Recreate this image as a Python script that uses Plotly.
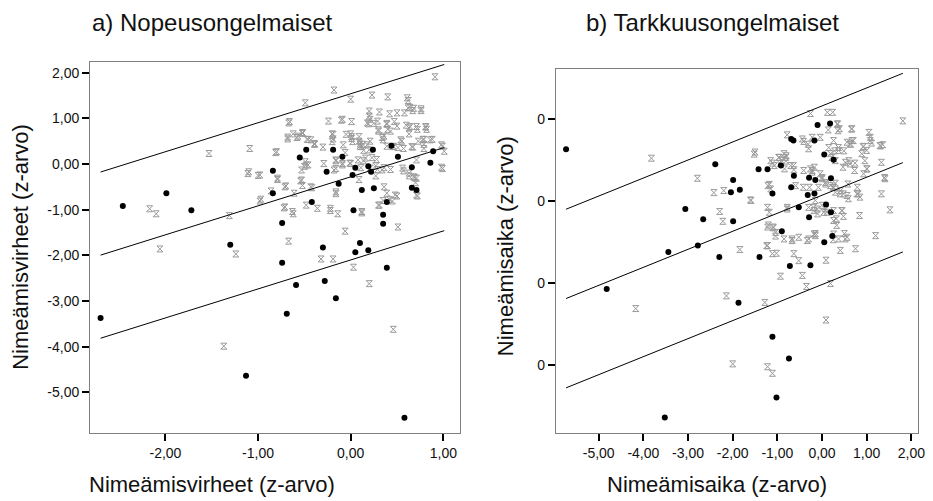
import plotly.graph_objects as go

# ---------------- a) Nopeusongelmaiset ----------------
# highlighted group (black)
a_grp_x = [-2.70, -2.46, -1.99, -1.72, -1.30, -1.13, -0.84, -0.84, -0.74, -0.74, -0.69, -0.59,
           -0.55, -0.48, -0.42, -0.30, -0.28, -0.26, -0.19, -0.16, -0.13, -0.09, 0.02, 0.03,
           0.05, 0.05, 0.10, 0.12, 0.19, 0.19, 0.22, 0.24, 0.25, 0.35, 0.35, 0.39, 0.39, 0.44,
           0.51, 0.58, 0.66, 0.66, 0.71, 0.86, 0.89]
a_grp_y = [-3.37, -0.92, -0.64, -1.01, -1.77, -4.64, -0.15, -0.64, -1.29, -2.16, -3.28, -2.65,
           0.14, 0.31, -0.83, -1.83, -2.56, -0.17, 0.31, -2.94, -0.43, 0.16, -0.24, -1.01,
           -0.08, -1.93, -1.73, -0.57, -0.05, -1.89, -0.17, 0.31, -0.53, -1.11, -1.31, -0.83,
           -2.27, 0.40, 0.16, -5.56, -0.07, -0.52, -0.57, 0.03, 0.28]

# reference group (grey)
a_ref_x = [0.91, -0.18, -0.49, 0.00, 0.23, 0.40, 0.61, 0.62, -0.67, -0.24, -0.10, 0.01, 0.20,
           0.20, 0.31, 0.42, 0.50, 0.58, 0.62, 0.67, 0.76, 0.19, 0.29, 0.39, 0.43, 0.47, 0.60,
           0.63, 0.72, 0.81, 0.82, -0.68, -0.62, -0.58, -0.52, -0.46, -0.39, -0.30, -0.19,
           -0.19, -0.05, 0.00, 0.01, 0.09, 0.10, 0.13, 0.14, 0.21, 0.30, 0.34, 0.40, 0.46,
           0.51, 0.55, 0.63, 0.67, 0.73, 0.79, 0.79, 0.88, 0.99, 1.01, 0.99, -1.09, -0.81,
           -1.53, -1.11, -1.00, -0.79, -0.70, -0.54, -0.52, -0.50, -0.48, -0.42, -0.29, -0.16,
           -0.16, -0.09, -0.06, 0.00, 0.09, 0.11, 0.14, 0.23, 0.27, 0.29, 0.36, 0.43, 0.57,
           0.63, 0.69, 0.70, 0.72, -0.16, -0.98, -0.86, -0.72, -0.62, -0.48, -0.22, -0.14,
           -0.06, 0.12, 0.31, 0.35, 0.42, 0.45, 0.50, 0.51, -1.31, -2.17, -2.10, -2.06, -1.24,
           -0.67, -0.32, -0.19, 0.03, 0.20, 0.46, -1.37,
           0.64, 0.68, 0.76, -0.66, -0.09, 0.18, 0.21, 0.25, 0.39, 0.30, 0.36, 0.50, 0.64,
           0.71, 0.81, 0.78, 0.86, -0.80, -0.68, -0.57, -0.52, -0.47, -0.43, -0.39, -0.20,
           -0.20, -0.08, 0.01, 0.02, 0.09, 0.10, 0.12, 0.18, 0.20, 0.28, 0.35, 0.39, 0.46,
           0.54, 0.57, 0.66, 0.71, 0.79, 0.98, 0.98, -0.49, -0.46, -0.53, -0.16, -0.18, -0.09,
           -0.01, 0.08, 0.16, 0.21, 0.27, 0.34, 0.56, 0.63, 0.68, 0.71, 0.36, 0.39, 0.48, 0.71,
           -0.71, -0.61, -0.53, -0.43, -0.36, -0.22, -0.16, 0.12, 0.30, -0.97, -0.71, -0.63,
           -1.10, -0.98, -0.79]
a_ref_y = [1.91, 1.62, 1.34, 1.42, 1.51, 1.47, 1.45, 1.39, 0.90, 0.94, 0.96, 0.93, 1.16,
           1.05, 1.14, 1.10, 1.12, 1.12, 1.23, 1.17, 1.17, 0.88, 0.94, 0.87, 0.72, 0.93, 0.85,
           0.79, 0.76, 0.81, 0.76, 0.55, 0.66, 0.58, 0.69, 0.54, 0.43, 0.37, 0.65, 0.55, 0.65,
           0.66, 0.56, 0.50, 0.39, 0.43, 0.30, 0.50, 0.72, 0.58, 0.76, 0.39, 0.36, 0.50, 0.66,
           0.37, 0.50, 0.54, 0.43, 0.54, 0.39, 0.28, -0.10, 0.34, 0.25, 0.23, -0.21, -0.25,
           -0.34, -0.48, -0.37, -0.47, -0.05, -0.02, -0.52, 0.01, 0.07, -0.10, 0.01, 0.25,
           0.01, -0.34, -0.08, 0.07, 0.14, -0.26, -0.12, -0.08, -0.12, -0.15, -0.26, -0.30,
           -0.41, -0.70, -0.65, -0.81, -0.59, -0.96, -1.09, -0.90, -1.02, -1.09, -1.47, -1.07,
           -0.90, -0.80, -0.78, -0.81, -0.70, -1.38, -1.13, -0.98, -1.09, -1.86, -1.97, -1.69,
           -2.08, -2.08, -2.26, -2.62, -3.62, -3.99,
           1.24, 1.22, 1.21, 0.93, 0.98, 0.90, 0.98, 0.89, 0.89, 0.75, 0.61, 0.83, 0.82, 0.82,
           0.82, 0.54, 0.53, 0.27, 0.59, 0.61, 0.67, 0.54, 0.53, 0.45, 0.66, 0.49, 0.42, 0.60,
           0.49, 0.60, 0.44, 0.38, 0.42, 0.31, 0.10, 0.53, 0.39, 0.38, 0.53, 0.34, 0.38, 0.09,
           0.34, 0.42, -0.07, 0.05, -0.02, -0.13, 0.09, -0.13, -0.02, 0.02, 0.09, 0.13, -0.09,
           -0.04, -0.13, -0.09, -0.20, -0.28, -0.31, -0.50, -0.64, -0.68, -0.68, -0.50, -0.64,
           -0.35, -0.50, -0.97, -0.97, -0.61, -1.04, -0.90, -0.77, -0.94, -1.04, -0.17, -0.24,
           -0.31]

# fitted line with prediction band
a_intercept = -0.281
a_slope = 0.635
a_band = 1.82

a_xticks = [-2, -1, 0, 1]
a_xticktext = ["-2,00", "-1,00", "0,00", "1,00"]
a_yticks = [2, 1, 0, -1, -2, -3, -4, -5]
a_yticktext = ["2,00", "1,00", "0,00", "-1,00", "-2,00", "-3,00", "-4,00", "-5,00"]

# ---------------- b) Tarkkuusongelmaiset ----------------
b_grp_x = [-5.73, -4.82, -3.52, -3.44, -3.06, -2.78, -2.66, -2.39, -2.30, -2.04, -1.99, -1.99,
           -1.84, -1.87, -1.42, -1.40, -1.22, -1.11, -1.11, -1.02, -0.92, -0.90, -0.74, -0.72,
           -0.69, -0.64, -0.63, -0.69, -0.52, -0.32, -0.29, -0.29, -0.26, -0.17, -0.17, -0.15,
           -0.10, 0.05, 0.05, 0.09, 0.18, 0.20, 0.20, 0.23, 0.26]
b_grp_y = [1.27, -2.14, -5.28, -1.24, -0.19, -1.08, -0.44, 0.90, -1.36, 0.22, 0.52, -0.49,
           0.28, -2.48, 0.78, -1.36, 0.78, -3.31, 0.19, -4.79, 0.87, -0.73, -3.84, -1.58,
           1.52, 1.48, 0.62, 0.34, -0.15, 0.15, 0.57, -0.39, -1.56, 1.48, 0.19, 0.52,
           1.86, 1.14, -1.00, -0.08, 1.90, 0.56, -0.27, -0.85, 1.01]

b_ref_x = [-3.82, -4.17, -2.79, -2.42, -2.29, -2.22, -2.14, -2.00, -1.84, -1.60, -1.52, -1.28,
           -1.24, -1.22, -1.21, -1.18, -1.22, -1.11, -1.20, -1.09, -1.04, -1.02, -0.97, -0.94,
           -0.93, -0.84, -0.80, -0.78, -0.78, -0.67, -0.64, -0.63, -0.59, -0.52, -0.44, -0.42,
           -0.41, -0.35, -0.33, -0.31, -0.28, -0.26, -0.22, -0.22, -0.19, -0.17, -0.15, -0.15,
           -0.10, -0.08, -0.04, 0.00, 0.04, 0.08, 0.09, 0.09, 0.12, 0.14, 0.15, 0.19, 0.24,
           0.25, 0.25, 0.26, 0.28, 0.30, 0.34, 0.36, 0.37, 0.41, 0.41, 0.45, 0.47, 0.49, 0.50,
           0.52, 0.58, 0.60, 0.64, 0.66, 0.70, 0.73, 0.75, 0.79, 0.81, 0.84, 0.92, 0.93, 1.01,
           1.05, 1.08, 1.20, 1.31, 1.33, 1.40, 1.52, 1.81,
           0.35, 0.39, 0.67, 1.08, -0.44, 0.26, 0.56, 0.63, 0.67, 0.93, 1.00, 1.11, 1.30, 1.36,
           -0.30, -1.50, -0.85, -0.81, 0.19, 0.22, 0.30, 0.37, 0.52, 0.63, 0.74, 0.89, 0.96,
           1.00, 1.33, -1.15, -1.11, -1.07, -0.96, -0.91, -0.81, -0.70, -0.63, -0.41, -0.26,
           -0.22, -0.04, 0.00, 0.08, 0.19, 0.26, 0.30, 0.41, 0.48, 0.56, 0.59, 0.78, 0.85,
           -1.18, -1.15, -1.59, -2.20, -0.78, -0.30, -0.18, -0.11, 0.00, 0.08, 0.11, 0.26, 0.32,
           0.33, 0.44, 0.48, -1.22, -1.09, -1.04, -0.85, -0.67, -0.30, -0.18, -0.15, 0.26, 0.37,
           0.56, -1.22, -1.11, -0.52, 1.41]
b_ref_y = [1.05, -2.62, 0.56, 0.21, -0.25, -0.49, -2.31, -3.97, -1.18, 0.03, 1.15, -2.47,
           -1.09, -0.15, 0.38, -0.27, -4.04, -4.20, -0.58, -0.63, -0.85, -1.27, 1.07, 0.92,
           -1.83, 0.79, 1.11, -0.15, 1.62, -0.96, 0.87, -1.28, 0.38, -0.88, -1.81, 0.34,
           1.46, -2.08, -0.96, 1.39, 0.34, 2.14, 1.56, 0.75, -0.15, 0.83, -0.79, 0.02,
           -0.31, 0.34, 1.56, 0.58, -0.27, 0.42, -1.44, -2.90, 2.17, 1.74, 1.31, -2.01, 2.17,
           0.34, -0.94, -0.47, 1.23, 0.22, 1.88, 1.72, 1.31, 0.18, -1.20, -0.23, 0.83, 1.23,
           -0.79, -0.92, 0.42, 0.99, 1.39, 1.76, 1.48, 0.75, -1.16, 0.34, 0.18, -0.35, 1.33,
           0.67, 0.79, 1.68, 1.48, -0.84, 1.35, 0.18, 0.58, -0.21, 1.96,
           1.89, 1.77, 1.77, 1.56, 1.52, 1.48, 1.44, 1.40, 1.48, 1.34, 1.24, 1.42, 1.36, 1.38,
           1.28, 1.20, 1.16, 1.07, 1.16, 1.07, 0.99, 1.24, 0.95, 0.91, 0.93, 1.16, 0.99,
           0.79, 0.95, 0.99, 0.93, 0.87, 1.07, 0.99, 0.98, 0.87, 0.77, 0.75, 0.79,
           0.71, 0.67, 0.55, 0.46, 0.38, 0.34, 0.44, 0.26, 0.18, 0.14, 0.06, 0.18, 0.10,
           0.41, 0.30, 0.02, 0.26, -0.19, -0.15, -0.23, -0.19, -0.10, -0.19, -0.27, -0.23, -0.43,
           -0.59, -0.23, -0.37, -0.63, -0.65, -0.76, -0.92, -0.92, -0.92, -0.80, -0.84, -0.80, -0.92,
           -0.88, -1.08, -1.28, -1.45, 0.55]

b_intercept = 0.146
b_slope = 0.44
b_band = 2.18

b_xticks = [-5, -4, -3, -2, -1, 0, 1, 2]
b_xticktext = ["-5,00", "-4,00", "-3,00", "-2,00", "-1,00", "0,00", "1,00", "2,00"]
b_yticks = [2, 0, -2, -4]
b_yticktext = ["0", "0", "0", "0"]

FONT = "Liberation Sans, Arial, sans-serif"
W, H = 933, 501
GREY = "#9a9a9a"

fig = go.Figure()


def add_panel(fig, xref, yref, ref_x, ref_y, grp_x, grp_y, intercept, slope, band):
    xa = "x" if xref == 1 else f"x{xref}"
    ya = "y" if yref == 1 else f"y{yref}"
    fig.add_trace(go.Scatter(
        x=ref_x, y=ref_y, mode="markers", xaxis=xa, yaxis=ya, showlegend=False,
        marker=dict(symbol="hourglass-open", size=6, color=GREY, line=dict(width=1, color=GREY)),
    ))
    fig.add_trace(go.Scatter(
        x=grp_x, y=grp_y, mode="markers", xaxis=xa, yaxis=ya, showlegend=False,
        marker=dict(symbol="circle", size=6, color="black"),
    ))
    all_x = ref_x + grp_x
    x_lo, x_hi = min(all_x), max(all_x)
    for off in (band, 0.0, -band):
        fig.add_trace(go.Scatter(
            x=[x_lo, x_hi],
            y=[intercept + slope * x_lo + off, intercept + slope * x_hi + off],
            mode="lines", xaxis=xa, yaxis=ya, showlegend=False,
            line=dict(color="black", width=1),
        ))


add_panel(fig, 1, 1, a_ref_x, a_ref_y, a_grp_x, a_grp_y, a_intercept, a_slope, a_band)
add_panel(fig, 2, 2, b_ref_x, b_ref_y, b_grp_x, b_grp_y, b_intercept, b_slope, b_band)

axis_common = dict(
    showline=True, linecolor="#808080", linewidth=1, mirror=True,
    ticks="outside", ticklen=7, tickwidth=2, tickcolor="black",
    showgrid=False, zeroline=False,
    tickfont=dict(family=FONT, size=14, color="#111"),
)

fig.update_layout(
    width=W, height=H,
    margin=dict(l=0, r=0, t=0, b=0),
    paper_bgcolor="white", plot_bgcolor="white",
    font=dict(family=FONT, color="#111"),
    xaxis=dict(domain=[90.7 / W, 463.3 / W], range=[-2.814, 1.178],
               tickmode="array", tickvals=a_xticks, ticktext=a_xticktext, anchor="y", **axis_common),
    yaxis=dict(domain=[1 - 432.7 / H, 1 - 61.7 / H], range=[-5.885, 2.241],
               tickmode="array", tickvals=a_yticks, ticktext=a_yticktext, anchor="x", **axis_common),
    xaxis2=dict(domain=[560 / W, 925 / W], range=[-5.96, 2.15],
                tickmode="array", tickvals=b_xticks, ticktext=b_xticktext, anchor="y2", **axis_common),
    yaxis2=dict(domain=[1 - 432.7 / H, 1 - 69.3 / H], range=[-5.65, 3.22],
                tickmode="array", tickvals=b_yticks, ticktext=b_yticktext, anchor="x2", **axis_common),
)

def px_note(text, x, y, size, angle=0):
    fig.add_annotation(
        text=text, x=x / W, y=1 - y / H, xref="paper", yref="paper",
        showarrow=False, textangle=angle, xanchor="center", yanchor="middle",
        font=dict(family=FONT, size=size, color="#111"),
    )

px_note("a) Nopeusongelmaiset", 214, 23, 24)
px_note("b) Tarkkuusongelmaiset", 718, 23, 24)
px_note("Nimeämisvirheet (z-arvo)", 214, 484, 22)
px_note("Nimeämisaika (z-arvo)", 722, 484, 22)
px_note("Nimeämisvirheet (z-arvo)", 21, 247, 22, -90)
px_note("Nimeämisaika (z-arvo)", 509, 246, 22, -90)

fig.write_html("out.html")
